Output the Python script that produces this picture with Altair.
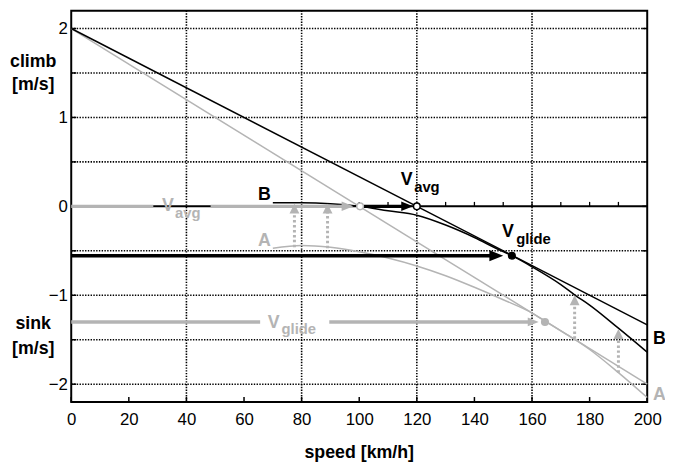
import altair as alt
import pandas as pd

# ---------------- data ----------------
X_MIN, X_MAX = 0, 200
Y_MIN, Y_MAX = -2.2, 2.2

x_tick_values = [0, 20, 40, 60, 80, 100, 120, 140, 160, 180, 200]
y_label_values = [-2, -1, 0, 1, 2]
x_grid_values = [40, 80, 120, 160]
y_grid_values = [-2, -1.5, -1, -0.5, 0.5, 1, 1.5, 2]
y_minor_values = [-2, -1.5, -1, -0.5, 0, 0.5, 1, 1.5, 2]
zero_line_ticks = [100, 110, 120, 130, 140, 150, 160, 170, 180, 190]

polar_A_speed = [70, 80, 90, 100, 110, 120, 130, 140, 150, 160, 165, 170, 175, 180, 190, 200]
polar_A_sink = [-0.47, -0.44, -0.46, -0.51, -0.58, -0.67, -0.78, -0.91, -1.05, -1.20, -1.30, -1.40, -1.50, -1.61, -1.87, -2.15]

polar_B_speed = [70, 80, 90, 100, 110, 120, 130, 140, 148, 153, 160, 170, 175, 180, 190, 200]
polar_B_sink = [0.04, 0.04, 0.03, 0.0, -0.05, -0.10, -0.21, -0.35, -0.48, -0.555, -0.68, -0.88, -1.0, -1.11, -1.37, -1.64]

tangent_speed = [0, 200]
tangent_A = [2.0, -2.0]
tangent_B = [2.0, -1.333]

# thick horizontal arrows: (y, segments, tip)
gray_avg_y, gray_avg_segments, gray_avg_tip = 0.0, [(0, 28.5), (48.4, 96)], 98.0
gray_glide_y, gray_glide_segments, gray_glide_tip = -1.30, [(0, 65.6), (89.6, 160)], 162.3
black_avg_y, black_avg_segments, black_avg_tip = 0.0, [(101.5, 116)], 118.7
black_glide_y, black_glide_segments, black_glide_tip = -0.555, [(0, 147)], 150.0

# dotted lift arrows
lift_x = [77.5, 89, 174.8, 190]
lift_from = [-0.46, -0.47, -1.49, -1.87]
lift_to = [0.03, 0.03, -1.0, -1.38]

# markers
open_gray = (100.3, 0.0)
open_black = (120.0, 0.0)
dot_black = (153.0, -0.555)
dot_gray = (164.5, -1.30)

# ---------------- styles ----------------
W, H = 583, 396
PXX = W / (X_MAX - X_MIN)
PXY = H / (Y_MAX - Y_MIN)
GRAY = "#b4b4b4"
FONT = "Liberation Sans"

xs = alt.Scale(domain=[X_MIN, X_MAX], nice=False, zero=False)
ys = alt.Scale(domain=[Y_MIN, Y_MAX], nice=False, zero=False)

x_axis = alt.Axis(values=x_tick_values, grid=False, domain=False, ticks=False,
                  labelFontSize=17, labelFont=FONT, labelColor="black",
                  labelPadding=10, title=None, labelFlush=False)
y_axis = alt.Axis(values=y_label_values, grid=False, domain=False, ticks=False,
                  labelFontSize=17, labelFont=FONT, labelColor="black",
                  labelPadding=4, title=None, labelFlush=False)


def X(f="x"):
    return alt.X(f, type="quantitative", scale=xs, axis=x_axis)


def Y(f="y"):
    return alt.Y(f, type="quantitative", scale=ys, axis=y_axis)


layers = []

# dotted grid
vg = pd.DataFrame({"x": x_grid_values})
vg["y"] = Y_MIN
vg["y2"] = Y_MAX
layers.append(alt.Chart(vg).mark_rule(color="black", strokeWidth=1.6, strokeDash=[1.4, 1.4]).encode(
    x=X("x"), y=Y("y"), y2="y2"))
hg = pd.DataFrame({"y": y_grid_values})
hg["x"] = X_MIN
hg["x2"] = X_MAX
layers.append(alt.Chart(hg).mark_rule(color="black", strokeWidth=1.6, strokeDash=[1.4, 1.4]).encode(
    x=X("x"), x2="x2", y=Y("y")))

# bottom ticks (inward)
bt = pd.DataFrame({"x": x_tick_values})
bt["y"] = Y_MIN
bt["y2"] = Y_MIN + 5 / PXY
layers.append(alt.Chart(bt).mark_rule(color="black", strokeWidth=1.5).encode(x=X("x"), y=Y("y"), y2="y2"))

# left ticks
lt = pd.DataFrame({"y": y_minor_values})
lt["x"] = X_MIN
lt["x2"] = X_MIN + 5 / PXX
layers.append(alt.Chart(lt).mark_rule(color="black", strokeWidth=1.5).encode(x=X("x"), x2="x2", y=Y("y")))

# right ticks
rt = pd.DataFrame({"y": y_minor_values})
rt["x"] = X_MAX - 5 / PXX
rt["x2"] = X_MAX
layers.append(alt.Chart(rt).mark_rule(color="black", strokeWidth=1.5).encode(x=X("x"), x2="x2", y=Y("y")))

# zero line with small upward ticks
zl = pd.DataFrame({"x": [X_MIN], "x2": [X_MAX], "y": [0.0]})
layers.append(alt.Chart(zl).mark_rule(color="black", strokeWidth=2).encode(x=X("x"), x2="x2", y=Y("y")))
zt = pd.DataFrame({"x": zero_line_ticks})
zt["y"] = 0.0
zt["y2"] = 4.5 / PXY
layers.append(alt.Chart(zt).mark_rule(color="black", strokeWidth=1.3).encode(x=X("x"), y=Y("y"), y2="y2"))

# tangent lines
ta = pd.DataFrame({"x": tangent_speed, "y": tangent_A})
layers.append(alt.Chart(ta).mark_line(color=GRAY, strokeWidth=1.5).encode(x=X("x"), y=Y("y")))
tb = pd.DataFrame({"x": tangent_speed, "y": tangent_B})
layers.append(alt.Chart(tb).mark_line(color="black", strokeWidth=1.5).encode(x=X("x"), y=Y("y")))

# polars
pa = pd.DataFrame({"x": polar_A_speed, "y": polar_A_sink})
layers.append(alt.Chart(pa).mark_line(color=GRAY, strokeWidth=1.5, interpolate="monotone").encode(x=X("x"), y=Y("y")))
pb = pd.DataFrame({"x": polar_B_speed, "y": polar_B_sink})
layers.append(alt.Chart(pb).mark_line(color="black", strokeWidth=1.5, interpolate="monotone").encode(x=X("x"), y=Y("y")))

RIGHT_HEAD = "M0,0 L-1,-0.4 L-1,0.4 Z"
UP_HEAD = "M0,0 L-0.5,1 L0.5,1 Z"


def thick_arrow(yv, segments, tip, color, head_len):
    seg = pd.DataFrame({"x": [s[0] for s in segments], "x2": [s[1] for s in segments]})
    seg["y"] = yv
    out = [alt.Chart(seg).mark_rule(color=color, strokeWidth=3.5).encode(x=X("x"), x2="x2", y=Y("y"))]
    hd = pd.DataFrame({"x": [tip], "y": [yv]})
    out.append(alt.Chart(hd).mark_point(shape=RIGHT_HEAD, filled=True, color=color, opacity=1,
                                        size=(2 * head_len) ** 2, strokeWidth=0).encode(x=X("x"), y=Y("y")))
    return out


layers += thick_arrow(gray_avg_y, gray_avg_segments, gray_avg_tip, GRAY, 12)
layers += thick_arrow(gray_glide_y, gray_glide_segments, gray_glide_tip, GRAY, 11)
layers += thick_arrow(black_avg_y, black_avg_segments, black_avg_tip, "black", 12)
layers += thick_arrow(black_glide_y, black_glide_segments, black_glide_tip, "black", 14)

# dotted lift arrows
la = pd.DataFrame({"x": lift_x, "y": lift_from, "tip": lift_to})
la["y2"] = la["tip"] - 9 / PXY
layers.append(alt.Chart(la).mark_rule(color=GRAY, strokeWidth=3, strokeDash=[2.5, 2.5]).encode(
    x=X("x"), y=Y("y"), y2="y2"))
layers.append(alt.Chart(la).mark_point(shape=UP_HEAD, filled=True, color=GRAY, opacity=1, size=400,
                                       strokeWidth=0).encode(x=X("x"), y=Y("tip")))

# markers
for (px, py), stroke, fill in [(open_gray, GRAY, "white"), (open_black, "black", "white"),
                               (dot_black, "black", "black"), (dot_gray, GRAY, GRAY)]:
    d = pd.DataFrame({"x": [px], "y": [py]})
    layers.append(alt.Chart(d).mark_point(shape="circle", filled=True, fill=fill, stroke=stroke,
                                          strokeWidth=1.5, opacity=1, size=45).encode(x=X("x"), y=Y("y")))

# texts
big_black = pd.DataFrame({
    "x": [67.1, 116.5, 151.6, 202.0, -13.2, -13.2, -13.2, -13.2, 100],
    "y": [0.13, 0.30, -0.29, -1.49, 1.62, 1.36, -1.32, -1.60, -2.77],
    "t": ["B", "V", "V", "B", "climb", "[m/s]", "sink", "[m/s]", "speed [km/h]"],
    "a": ["center", "center", "center", "left", "center", "center", "center", "center", "center"],
})
for al in ["center", "left"]:
    sub = big_black[big_black["a"] == al]
    layers.append(alt.Chart(sub).mark_text(font=FONT, fontSize=18, fontWeight="bold", color="black",
                                           align=al, baseline="middle").encode(x=X("x"), y=Y("y"), text="t"))
small_black = pd.DataFrame({"x": [123.5, 160.5], "y": [0.22, -0.37], "t": ["avg", "glide"]})
layers.append(alt.Chart(small_black).mark_text(font=FONT, fontSize=15, fontWeight="bold", color="black",
                                               align="center", baseline="middle").encode(x=X("x"), y=Y("y"), text="t"))

big_gray = pd.DataFrame({"x": [67.1, 33.6, 70.3, 202.0], "y": [-0.39, 0.0, -1.31, -2.12],
                         "t": ["A", "V", "V", "A"], "a": ["center", "center", "center", "left"]})
for al in ["center", "left"]:
    sub = big_gray[big_gray["a"] == al]
    layers.append(alt.Chart(sub).mark_text(font=FONT, fontSize=18, fontWeight="bold", color=GRAY,
                                           align=al, baseline="middle").encode(x=X("x"), y=Y("y"), text="t"))
small_gray = pd.DataFrame({"x": [40.5, 79.0], "y": [-0.07, -1.38], "t": ["avg", "glide"]})
layers.append(alt.Chart(small_gray).mark_text(font=FONT, fontSize=15, fontWeight="bold", color=GRAY,
                                              align="center", baseline="middle").encode(x=X("x"), y=Y("y"), text="t"))

chart = alt.layer(*layers).properties(
    width=W, height=H,
    padding={"left": 64, "top": 0, "right": 18, "bottom": 59},
    autosize=alt.AutoSizeParams(type="none"),
    background="white",
).configure_view(stroke="black", strokeWidth=2)

chart.save("out.html", embed_options={"renderer": "svg", "actions": False})
